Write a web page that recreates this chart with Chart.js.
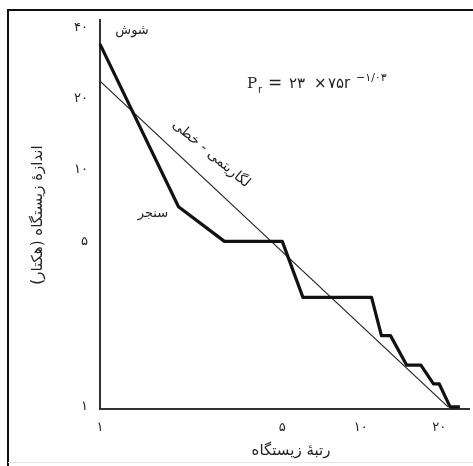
<!doctype html>
<html>
<head>
<meta charset="utf-8">
<title>رتبه - اندازهٔ زیستگاه</title>
<style>
  html, body { margin: 0; padding: 0; background: #fff; }
  #wrap { width: 473px; height: 466px; position: relative; }
</style>
</head>
<body>
<div id="wrap"><canvas id="chart" width="473" height="466"></canvas></div>
<script src="https://cdn.jsdelivr.net/npm/chart.js"></script>
<script>
// observed settlements: rank vs size (hectares)
const ranks = [1, 2, 3, 5, 6, 11, 12, 13, 15, 17, 19, 20, 22, 24];
const sizes = [34, 7, 5, 5, 2.9, 2.9, 2, 2, 1.5, 1.5, 1.25, 1.25, 1, 1];
// fitted log-linear line, endpoints
const fitRanks = [1, 21.6];
const fitSizes = [23.75, 1];
// axis ticks
const xTicks = [1, 5, 10, 20];
const yTicks = [1, 5, 10, 20, 40];

const FONT = "'DejaVu Sans', sans-serif";
const toFa = n => String(n).replace(/\d/g, d => '۰۱۲۳۴۵۶۷۸۹'[d]);

const annotations = {
  id: 'annotations',
  afterDraw(chart) {
    const ctx = chart.ctx;
    ctx.save();
    // outer frame
    ctx.strokeStyle = '#111';
    ctx.lineWidth = 2;
    ctx.beginPath();
    ctx.moveTo(8, 466); ctx.lineTo(8, 10); ctx.lineTo(473, 10);
    ctx.stroke();
    ctx.strokeStyle = '#e4e4e4';
    ctx.lineWidth = 1;
    ctx.beginPath();
    ctx.moveTo(8, 462.5); ctx.lineTo(473, 462.5);
    ctx.stroke();

    ctx.fillStyle = '#222';
    ctx.textBaseline = 'middle';
    ctx.textAlign = 'center';

    // axis titles
    ctx.font = '15px ' + FONT;
    ctx.fillText('رتبهٔ زیستگاه', 291, 451);
    ctx.save();
    ctx.translate(38, 215);
    ctx.rotate(-Math.PI / 2);
    ctx.fillText('اندازهٔ زیستگاه (هکتار)', 0, 0);
    ctx.restore();

    // point labels
    ctx.font = '13px ' + FONT;
    ctx.fillText('شوش', 132, 31);
    ctx.fillText('سنجر', 153, 214);

    // label along the fitted line
    ctx.save();
    ctx.translate(211, 154);
    ctx.rotate(40 * Math.PI / 180);
    ctx.font = '14px ' + FONT;
    ctx.fillText('لگاریتمی - خطی', 0, 0);
    ctx.restore();

    // formula, laid out piece by piece
    ctx.textAlign = 'left';
    ctx.textBaseline = 'alphabetic';
    ctx.font = '15px \'DejaVu Serif\', serif';
    ctx.fillText('P', 247, 88);
    ctx.font = '10px ' + FONT;
    ctx.fillText('r', 258, 93);
    ctx.font = '17px ' + FONT;
    ctx.fillText('=', 268, 88);
    ctx.font = '15px ' + FONT;
    ctx.fillText('۲۳', 289, 88);
    ctx.fillText('×', 314, 88);
    ctx.fillText('۷۵r', 328, 88);
    ctx.font = '11px ' + FONT;
    ctx.letterSpacing = '1px';
    ctx.fillText('−۱/۰۳', 356, 81);
    ctx.letterSpacing = '0px';
    ctx.restore();
  }
};

new Chart(document.getElementById('chart'), {
  type: 'scatter',
  data: {
    datasets: [
      {
        label: 'observed',
        data: ranks.map((r, i) => ({ x: r, y: sizes[i] })),
        showLine: true,
        borderColor: '#111',
        borderWidth: 3.2,
        pointRadius: 0,
        borderJoinStyle: 'round',
        clip: false
      },
      {
        label: 'fit',
        data: fitRanks.map((r, i) => ({ x: r, y: fitSizes[i] })),
        showLine: true,
        borderColor: '#222',
        borderWidth: 1.2,
        pointRadius: 0,
        clip: false
      }
    ]
  },
  options: {
    responsive: false,
    animation: false,
    layout: { padding: { left: 0, top: 20, right: 4, bottom: 0 } },
    plugins: { legend: { display: false }, tooltip: { enabled: false } },
    scales: {
      x: {
        type: 'logarithmic',
        min: 1,
        max: 26,
        afterBuildTicks: s => { s.ticks = xTicks.map(v => ({ value: v })); },
        afterFit: s => { s.height = 57; },
        grid: { display: false, drawTicks: false },
        border: { display: true, color: '#333', width: 2 },
        ticks: {
          padding: 11,
          maxRotation: 0,
          autoSkip: false,
          color: '#222',
          font: { family: FONT, size: 13 },
          callback: v => toFa(v)
        }
      },
      y: {
        type: 'logarithmic',
        min: 0.98,
        max: 43,
        afterBuildTicks: s => { s.ticks = yTicks.map(v => ({ value: v })); },
        afterFit: s => { s.width = 100; },
        grid: { display: false, drawTicks: false },
        border: { display: true, color: '#333', width: 2 },
        ticks: {
          padding: 12,
          autoSkip: false,
          color: '#222',
          font: { family: FONT, size: 13 },
          callback: v => toFa(v)
        }
      }
    }
  },
  plugins: [annotations]
});
</script>
</body>
</html>
